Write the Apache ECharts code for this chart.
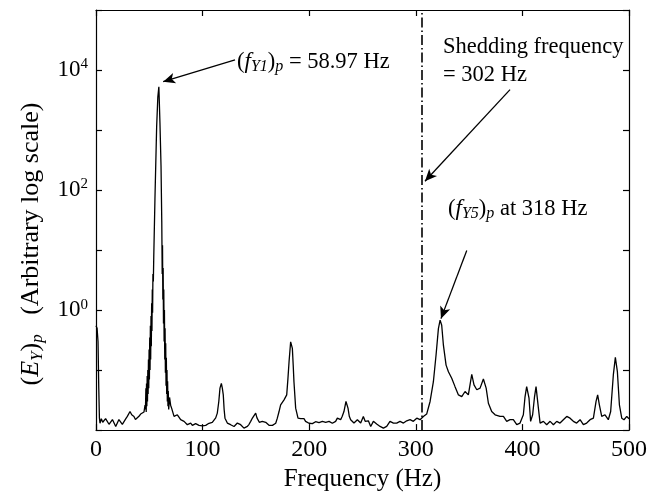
<!DOCTYPE html>
<html>
<head>
<meta charset="utf-8">
<script src="https://cdn.jsdelivr.net/npm/echarts@6/dist/echarts.min.js"></script>
<style>
html,body{margin:0;padding:0;background:#fff;}
#chart{width:650px;height:497px;}
</style>
</head>
<body>
<div id="chart"></div>
<script>
// Frequency (Hz)
const freq = [
0, 1.0, 1.9, 2.6, 3.2, 3.75, 5.0, 6.3, 7.5, 9.0, 10.6, 12.2, 13.8, 15.4, 16.9, 18.5, 20.0, 21.5, 23.1, 24.7,
26.3, 28.0, 29.4, 31.9, 33.5, 35.6, 37.0, 38.8, 40.3, 41.9, 43.5, 45.0, 46.0,
46.4, 46.8, 47.1, 47.4, 47.7, 48.0, 48.3, 48.6, 48.9, 49.2, 49.5, 49.8, 50.1, 50.4, 50.7, 51.0, 51.3, 51.6, 51.9,
52.2, 52.5, 52.8, 53.1, 53.4, 53.8, 54.2,
55.3, 56.9, 58.0, 58.97, 60.0, 61.0, 61.7, 62.1, 62.4, 62.7, 63.0, 63.3, 63.6, 63.9, 64.2, 64.5, 64.8, 65.1, 65.4,
65.7, 66.0, 66.3, 66.6, 66.9, 67.2, 67.5, 67.8, 68.2, 69.0, 70.0,
71.0, 73.2, 74.8, 76.3, 77.8, 79.4, 81.0, 82.6, 84.2, 85.7, 87.2, 88.8, 90.4,
91.9, 93.5, 95.1, 96.6, 98.2, 99.8, 101.3, 102.9, 104.4, 106.0, 107.6, 109.1, 110.7, 112.3, 113.8, 115.2, 116.3,
117.6, 118.5, 119.4, 120.2, 121.0, 123.2, 124.8, 126.3, 127.9, 129.5, 131.0, 132.6, 134.2, 135.7, 137.2, 138.8,
140.4, 142.0, 143.6, 145.1, 146.4, 147.6, 149.8, 151.0, 152.0, 153.2, 154.5, 156.0, 157.6, 159.2, 160.7, 162.3,
163.9, 165.5, 167.0, 168.6, 170.1, 171.6, 173.2, 174.8, 176.4, 177.6, 178.9, 180.0, 181.1, 182.6, 184.2, 185.0,
185.7, 187.3, 189.5, 192.0, 195.1, 196.6, 198.2, 199.8, 201.4, 203.0, 204.5, 206.0, 207.6, 209.2, 210.8, 212.4,
213.9, 215.5, 217.0, 218.6, 220.1, 221.7, 223.3, 224.8, 226.4, 228.0, 229.5, 231.0, 232.6, 234.5, 236.4, 237.6,
238.9, 240.4, 242.0, 243.6, 245.2, 246.8, 248.3, 250.8, 252.5, 253.3, 255.5, 257.7, 260.2, 263.3, 266.5, 269.6,
272.7, 275.8, 279.0, 282.1, 285.2, 288.4, 291.5, 294.6, 297.7, 300.9, 304.0, 307.1, 310.2, 313.4, 316.5, 319.0,
321.2, 322.8, 324.3, 325.9, 328.4, 330.6, 333.7, 336.8, 340.0, 343.1, 346.2, 349.3, 352.5, 354.6, 357.2, 360.3,
363.4, 366.0, 368.1, 371.2, 374.4, 379.0, 382.2, 385.3, 388.4, 391.5, 394.7, 397.8, 400.9, 402.4, 404.0, 406.2,
407.7, 409.6, 411.3, 412.8, 415.0, 416.6, 419.7, 422.8, 426.0, 429.1, 432.2, 435.3, 438.4, 441.6, 444.7, 447.8,
450.9, 454.1, 457.2, 460.3, 463.5, 466.6, 469.1, 470.6, 472.2, 474.4, 477.5, 480.6, 482.8, 485.3, 487.2, 489.1,
491.0, 493.2, 495.3, 497.9, 500
];
// (E_Y)_p amplitude (arbitrary, log scale)
const amp = [
0.55, 0.5, 0.3, 0.05, 0.016, 0.013, 0.0155, 0.0135, 0.014, 0.0155, 0.0149, 0.0125, 0.0131, 0.015, 0.014, 0.0115, 0.0123, 0.015, 0.014, 0.0125,
0.0131, 0.0155, 0.0169, 0.0204, 0.018, 0.0169, 0.015, 0.0158, 0.017, 0.0185, 0.018, 0.020, 0.026,
0.022, 0.05, 0.02, 0.06, 0.025, 0.08, 0.03, 0.1, 0.04, 0.15, 0.05, 0.22, 0.07, 0.35, 0.1, 0.55, 0.15, 0.8, 0.25,
1.3, 0.45, 2.2, 0.9, 4, 3, 8,
71, 1150, 3550, 5250, 1300, 250, 30, 4, 12, 1.5, 5, 0.6, 2.2, 0.3, 1.0, 0.15, 0.5, 0.09, 0.28,
0.055, 0.16, 0.04, 0.1, 0.03, 0.065, 0.025, 0.045, 0.022, 0.035, 0.026,
0.023, 0.0169, 0.016, 0.018, 0.0165, 0.0149, 0.015, 0.014, 0.013, 0.0123, 0.013, 0.0131, 0.012,
0.0123, 0.0128, 0.0131, 0.012, 0.0123, 0.0118, 0.0115, 0.012, 0.0126, 0.013, 0.0131, 0.0135, 0.014, 0.016, 0.0192, 0.03, 0.05,
0.060, 0.05, 0.0386, 0.022, 0.0158, 0.0131, 0.013, 0.0123, 0.012, 0.0115, 0.012, 0.0131, 0.0125, 0.0123, 0.0115, 0.0108,
0.011, 0.0115, 0.0125, 0.014, 0.0155, 0.0158, 0.0192, 0.016, 0.0149, 0.0135, 0.0131, 0.014, 0.014, 0.0135, 0.0131, 0.012,
0.0115, 0.012, 0.0123, 0.013, 0.0158, 0.02, 0.0264, 0.029, 0.0319, 0.034, 0.0386, 0.07, 0.138, 0.296, 0.23, 0.12,
0.064, 0.0232, 0.0158, 0.0155, 0.0155, 0.014, 0.014, 0.013, 0.0123, 0.0128, 0.0131, 0.0138, 0.014, 0.0133, 0.0131, 0.014,
0.0143, 0.0135, 0.0131, 0.014, 0.014, 0.013, 0.0126, 0.014, 0.0158, 0.0155, 0.0149, 0.017, 0.0204, 0.030, 0.0232, 0.017,
0.0149, 0.0138, 0.0131, 0.014, 0.0149, 0.014, 0.0131, 0.0169, 0.014, 0.0131, 0.0143, 0.0115, 0.014, 0.0126, 0.0115, 0.0108,
0.0115, 0.014, 0.0131, 0.0131, 0.014, 0.0131, 0.0143, 0.0149, 0.014, 0.0158, 0.0149, 0.0169, 0.0185, 0.030, 0.064, 0.178,
0.49, 0.68, 0.56, 0.26, 0.121, 0.094, 0.073, 0.053, 0.0386, 0.0362, 0.044, 0.0386, 0.085, 0.0566, 0.047, 0.050,
0.071, 0.050, 0.028, 0.0204, 0.018, 0.0169, 0.0169, 0.014, 0.0149, 0.0149, 0.0123, 0.0131, 0.018, 0.035, 0.053, 0.034,
0.014, 0.018, 0.035, 0.053, 0.0232, 0.0131, 0.014, 0.0123, 0.014, 0.0123, 0.014, 0.0131, 0.0149, 0.0169, 0.0158, 0.014,
0.0131, 0.0149, 0.0123, 0.0131, 0.0149, 0.0158, 0.030, 0.0386, 0.0264, 0.0169, 0.018, 0.0149, 0.0204, 0.083, 0.163, 0.094,
0.0264, 0.0158, 0.0149, 0.0169, 0.0155
];
const xTicks = [0, 100, 200, 300, 400, 500];
const yLabelExponents = [0, 2, 4];
const sheddingLine = 306;
// Arrows: [fromX, fromY, toX, toY] in data units
const arrows = [
  [130.4, 14800, 63.0, 6400],
  [388.4, 4710, 308.6, 140],
  [347.8, 9.8, 323.6, 0.72]
];
// Annotation anchors (left edge, vertical middle) in data units
const notes = [
  {x: 132.3, y: 13700, text: '{n|(}{i|f}{si|Y1}{n|)}{si|p}{n| = 58.97 Hz}'},
  {x: 325.5, y: 24300, text: '{n|Shedding frequency}'},
  {x: 325.5, y: 8360, text: '{n|= 302 Hz}'},
  {x: 330.2, y: 48.2, text: '{n|(}{i|f}{si|Y5}{n|)}{si|p}{n| at 318 Hz}'}
];
const yTitle = '{n|(}{i|E}{si|Y}{n|)}{si|p}{n|   (Arbitrary log scale)}';

const FONT = "'Liberation Serif', 'Times New Roman', serif";
const noteRich = {
  n: {fontFamily: FONT, fontSize: 22.5, color: '#000', lineHeight: 26},
  i: {fontFamily: FONT, fontSize: 23, fontStyle: 'italic', color: '#000', lineHeight: 26},
  si: {fontFamily: FONT, fontSize: 16, fontStyle: 'italic', color: '#000', lineHeight: 12, verticalAlign: 'bottom'}
};

const chart = echarts.init(document.getElementById('chart'), null, {renderer: 'canvas'});
const data = freq.map((f, i) => [f, amp[i]]);
const axisLineStyle = {color: '#000', width: 1.2};

const option = {
  animation: false,
  backgroundColor: '#fff',
  grid: {left: 96, top: 10, width: 533, height: 422, containLabel: false},
  xAxis: [{
    type: 'value', min: 0, max: 500, interval: 100,
    axisLine: {show: true, onZero: false, lineStyle: axisLineStyle},
    axisTick: {show: true, inside: true, length: 6, lineStyle: axisLineStyle},
    axisLabel: {show: true, margin: 8, color: '#000', fontFamily: FONT, fontSize: 24,
      formatter: v => xTicks.includes(v) ? String(v) : ''},
    splitLine: {show: false},
    name: 'Frequency (Hz)', nameLocation: 'middle', nameGap: 35,
    nameTextStyle: {color: '#000', fontFamily: FONT, fontSize: 25}
  }, {
    type: 'value', position: 'top', min: 0, max: 500, interval: 100,
    axisLine: {show: true, onZero: false, lineStyle: axisLineStyle},
    axisTick: {show: true, inside: true, length: 6, lineStyle: axisLineStyle},
    axisLabel: {show: false}, splitLine: {show: false}
  }],
  yAxis: [{
    type: 'log', logBase: 10, min: 0.01, max: 100000, interval: 1, splitNumber: 7,
    axisLine: {show: true, onZero: false, lineStyle: axisLineStyle},
    axisTick: {show: true, inside: true, length: 6, lineStyle: axisLineStyle},
    minorTick: {show: false},
    splitLine: {show: false},
    axisLabel: {show: true, margin: 8, color: '#000',
      formatter: v => {
        const e = Math.round(Math.log10(v));
        return yLabelExponents.includes(e) ? '{b|10}{s|' + e + '}' : '';
      },
      rich: {
        b: {fontFamily: FONT, fontSize: 23, color: '#000', lineHeight: 26},
        s: {fontFamily: FONT, fontSize: 15, color: '#000', lineHeight: 14, verticalAlign: 'top'}
      }
    }
  }, {
    type: 'log', logBase: 10, min: 0.01, max: 100000, interval: 1, splitNumber: 7, position: 'right',
    axisLine: {show: true, onZero: false, lineStyle: axisLineStyle},
    axisTick: {show: true, inside: true, length: 6, lineStyle: axisLineStyle},
    axisLabel: {show: false}, splitLine: {show: false}
  }],
  series: [{
    type: 'line', xAxisIndex: 0, yAxisIndex: 0,
    data: data, showSymbol: false, symbol: 'none',
    lineStyle: {color: '#000', width: 1.3},
    silent: true,
    markLine: {
      silent: true, animation: false,
      label: {show: false},
      data: [
        [{xAxis: sheddingLine, yAxis: 0.01, symbol: 'none', lineStyle: {color: '#000', width: 1.6, type: [10, 3, 1.5, 3]}},
         {xAxis: sheddingLine, yAxis: 100000, symbol: 'none'}]
      ].concat(arrows.map(a => [
        {coord: [a[0], a[1]], symbol: 'none', lineStyle: {color: '#000', width: 1.3, type: 'solid'}},
        {coord: [a[2], a[3]], symbol: 'arrow', symbolSize: [8, 12]}
      ]))
    }
  }]
};
chart.setOption(option);

const graphics = notes.map(n => {
  const p = chart.convertToPixel({xAxisIndex: 0, yAxisIndex: 0}, [n.x, n.y]);
  return {
    type: 'text', x: p[0], y: p[1], silent: true,
    style: {text: n.text, rich: noteRich, align: 'left', verticalAlign: 'middle', fill: '#000'}
  };
});
// rotated y-axis title
graphics.push({
  type: 'text', x: 31, y: 244, rotation: Math.PI / 2, silent: true,
  style: {
    text: yTitle, align: 'center', verticalAlign: 'middle', fill: '#000',
    rich: {
      n: {fontFamily: FONT, fontSize: 26, color: '#000', lineHeight: 30},
      i: {fontFamily: FONT, fontSize: 26, fontStyle: 'italic', color: '#000', lineHeight: 30},
      si: {fontFamily: FONT, fontSize: 17, fontStyle: 'italic', color: '#000', lineHeight: 14, verticalAlign: 'bottom'}
    }
  }
});
chart.setOption({graphic: graphics});
</script>
</body>
</html>
